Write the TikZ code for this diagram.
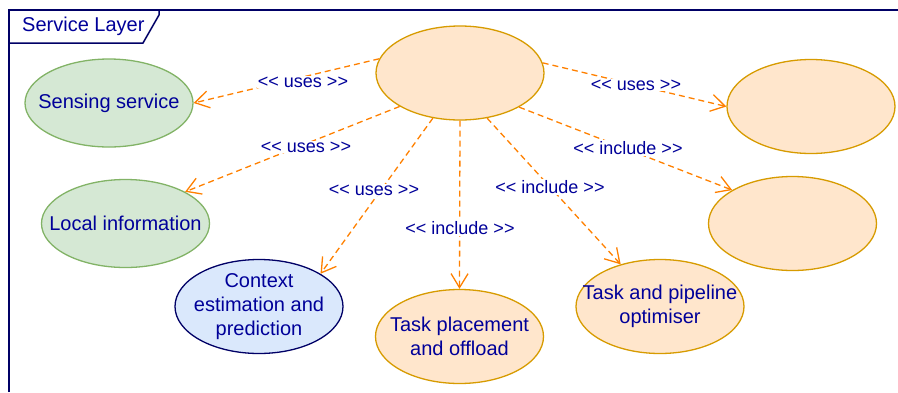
\documentclass[tikz,border=0pt]{standalone}
\usepackage{fontspec}
\setmainfont{Liberation Sans}[Ligatures=TeXOff]
\usetikzlibrary{shapes.geometric,arrows.meta}
\definecolor{txt}{HTML}{000099}
\definecolor{frm}{HTML}{000066}
\definecolor{ofill}{HTML}{FFE6CC}
\definecolor{oline}{HTML}{D79B00}
\definecolor{gfill}{HTML}{D5E8D4}
\definecolor{gline}{HTML}{82B366}
\definecolor{bfill}{HTML}{DAE8FC}
\definecolor{bline}{HTML}{000066}
\definecolor{arr}{HTML}{FF8000}
\begin{document}
\begin{tikzpicture}[x=1pt,y=-1pt,
  uc/.style={ellipse, minimum width=168pt, minimum height=94pt, inner sep=0pt,
    line width=1.3pt},
  uctext/.style={text=txt, align=center, font=\fontsize{20}{24}\selectfont, inner sep=0pt},
  orng/.style={uc, fill=ofill, draw=oline},
  grn/.style={uc, fill=gfill, draw=gline, minimum height=88pt},
  blu/.style={uc, fill=bfill, draw=bline},
  dep/.style={draw=arr, line width=1.3pt, dash pattern=on 6pt off 4pt,
    -{Straight Barb[length=14pt,width=17pt,line width=1.3pt]}},
  lbl/.style={fill=white, text=txt, font=\fontsize{18}{22}\selectfont, inner sep=1pt},
  frame/.style={draw=frm, line width=1.5pt}]
\useasboundingbox (0,0) rectangle (898,392);
% frame
\draw[frame] (9,392) -- (9,10) -- (898,10);
\draw[frame] (9,43) -- (143,43) -- (159,15) -- (159,10);
\node[text=txt, font=\fontsize{20}{24}\selectfont, anchor=west, inner sep=0pt] (title) at (22,26) {Service Layer};
% nodes
\node[orng] (c) at (460,73) {};
\node[grn] (s) at (109,103) {};
\node[uctext] (st) at (s.center) {Sensing service};
\node[grn] (l) at (125.5,223.5) {};
\node[uctext] (lt) at (l.center) {Local information};
\node[blu] (x) at (259,306.5) {};
\node[uctext] (xt) at (x.center) {Context\\estimation and\\prediction};
\node[orng] (p) at (459.5,336.5) {};
\node[uctext] (pt) at (p.center) {Task placement\\and offload};
\node[orng] (o) at (660,306.5) {};
\node[uctext] (ot) at (o.center) {Task and pipeline\\optimiser};
\node[orng] (tr) at (811,106.5) {};
\node[orng] (mr) at (792.5,223.5) {};
% connectors
\draw[dep] (c.170) -- (s.east);
\draw[dep] (c.209.5) -- (l.28.8);
\draw[dep] (c.239) -- (x.28.8);
\draw[dep] (c.south) -- (p.north);
\draw[dep] (c.301.5) -- (o.133.6);
\draw[dep] (c.330.5) -- (mr.151.8);
\draw[dep] (c.7.5) -- (tr.west);
% labels
\node[lbl] (l1) at (303,82) {<< uses >>};
\node[lbl] (l2) at (306,147) {<< uses >>};
\node[lbl] (l3) at (374,190) {<< uses >>};
\node[lbl] (l4) at (460,228) {<< include >>};
\node[lbl] (l5) at (550,187) {<< include >>};
\node[lbl] (l6) at (628,148) {<< include >>};
\node[lbl] (l7) at (636,85) {<< uses >>};
\end{tikzpicture}
\end{document}
